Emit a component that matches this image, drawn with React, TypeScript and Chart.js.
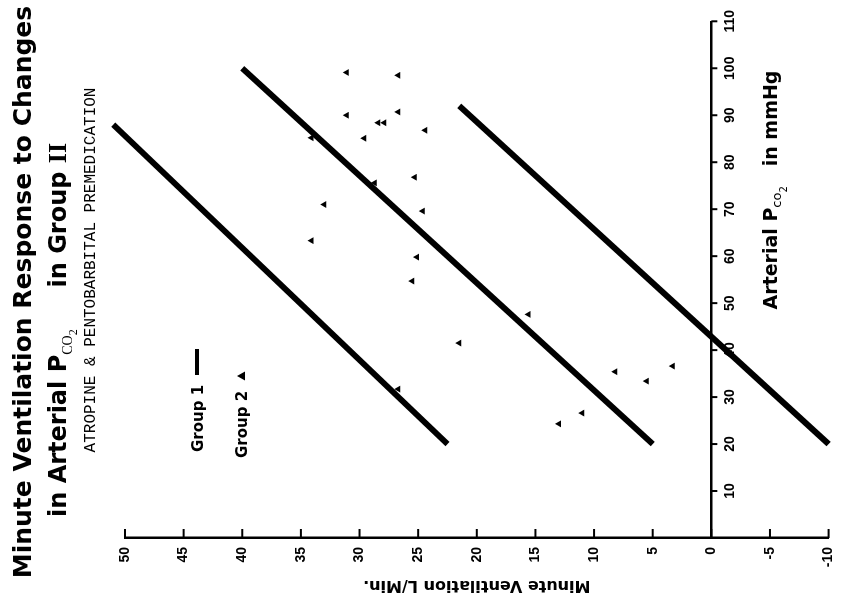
import { useEffect, useRef } from "react";
import { Chart, registerables } from "chart.js";
Chart.register(...registerables);

// ---- data ----
const pco2Ticks = [10, 20, 30, 40, 50, 60, 70, 80, 90, 100, 110];
const ventTicks = [50, 45, 40, 35, 30, 25, 20, 15, 10, 5, 0, -5, -10];

// Group 1 (three thick lines), end points
const line1Pco2 = [20, 88];
const line1Vent = [22.5, 51];
const line2Pco2 = [20, 100];
const line2Vent = [5, 40];
const line3Pco2 = [20, 92];
const line3Vent = [-10, 21.5];

// Group 2 (triangles)
const group2Pco2 = [99.1, 98.5, 90.0, 90.7, 88.4, 88.4, 86.8, 85.1, 85.2, 76.8, 75.6, 71.0, 69.6, 63.3, 59.8, 54.7, 47.6, 41.5, 31.7, 35.4, 33.4, 36.6, 26.6, 24.3];
const group2Vent = [31.1, 26.7, 31.1, 26.7, 28.4, 27.9, 24.4, 29.6, 34.1, 25.3, 28.7, 33.0, 24.6, 34.1, 25.1, 25.5, 15.6, 21.5, 26.7, 8.2, 5.5, 3.3, 11.0, 13.0];

const titleLine1 = "Minute Ventilation Response to Changes";
const subtitle = "ATROPINE & PENTOBARBITAL PREMEDICATION";
const yTitle = "Minute Ventilation L/Min.";

const SANS = '"DejaVu Sans", sans-serif';
const TICKFONT = '"Liberation Sans", sans-serif';

type Part = { t: string; font: string; dy: number };

function drawParts(ctx: CanvasRenderingContext2D, parts: Part[], cx: number, base: number) {
  let total = 0;
  parts.forEach((p) => { ctx.font = p.font; total += ctx.measureText(p.t).width; });
  let x = cx - total / 2;
  parts.forEach((p) => {
    ctx.font = p.font;
    ctx.fillText(p.t, x, base + p.dy);
    x += ctx.measureText(p.t).width;
  });
}

const pts = (xs: number[], ys: number[]) => xs.map((x, i) => ({ x, y: ys[i] }));

export default function App() {
  const ref = useRef<HTMLCanvasElement>(null);
  useEffect(() => {
    const canvas = ref.current!;
    const decor = {
      id: "decor",
      afterDraw(chart: any) {
        const ctx: CanvasRenderingContext2D = chart.ctx;
        const xs = chart.scales.x;
        const ys = chart.scales.y;
        ctx.save();
        ctx.fillStyle = "#000";
        ctx.strokeStyle = "#000";
        ctx.textBaseline = "alphabetic";
        ctx.textAlign = "left";
        // inward tick marks on ventilation axis
        ctx.lineWidth = 2;
        ventTicks.forEach((v) => {
          const py = ys.getPixelForValue(v);
          ctx.beginPath();
          ctx.moveTo(xs.left, py);
          ctx.lineTo(xs.left + 9, py);
          ctx.stroke();
        });
        // tick marks on Pco2 axis (at V = 0)
        const y0 = ys.getPixelForValue(0);
        pco2Ticks.forEach((p) => {
          const px = xs.getPixelForValue(p);
          ctx.beginPath();
          ctx.moveTo(px, y0);
          ctx.lineTo(px, y0 + 6);
          ctx.stroke();
        });
        // titles
        drawParts(ctx, [{ t: titleLine1, font: `bold 25px ${SANS}`, dy: 0 }], 311, 31);
        drawParts(ctx, [
          { t: "in Arterial P", font: `bold 24px ${SANS}`, dy: 0 },
          { t: "CO", font: `14px "Liberation Serif", serif`, dy: 6 },
          { t: "2", font: `12px "Liberation Serif", serif`, dy: 11 },
          { t: "     in Group ", font: `bold 24px ${SANS}`, dy: 0 },
          { t: "II", font: `bold 26px "Liberation Serif", serif`, dy: 0 },
        ], 273, 66);
        drawParts(ctx, [{ t: subtitle, font: `16px "Liberation Mono", monospace`, dy: 0 }], 333, 95);
        // legend
        ctx.font = `bold 15px ${SANS}`;
        ctx.fillText("Group 1", 151, 203);
        ctx.lineWidth = 4;
        ctx.beginPath();
        ctx.moveTo(228, 197);
        ctx.lineTo(254, 197);
        ctx.stroke();
        ctx.fillText("Group 2", 145, 247);
        ctx.beginPath();
        ctx.moveTo(227, 237);
        ctx.lineTo(231.5, 245);
        ctx.lineTo(222.5, 245);
        ctx.closePath();
        ctx.fill();
        // Pco2 axis title
        drawParts(ctx, [
          { t: "Arterial P", font: `bold 19px ${SANS}`, dy: 0 },
          { t: "co", font: `13px ${SANS}`, dy: 4 },
          { t: "2", font: `10px ${SANS}`, dy: 10 },
          { t: "   in mmHg", font: `bold 19px ${SANS}`, dy: 0 },
        ], 413, 777);
        ctx.restore();
      },
    };

    const chart = new Chart(canvas, {
      type: "scatter",
      data: {
        datasets: [
          { type: "line", data: pts(line1Pco2, line1Vent), borderColor: "#000", borderWidth: 6, pointRadius: 0, clip: false } as any,
          { type: "line", data: pts(line2Pco2, line2Vent), borderColor: "#000", borderWidth: 6, pointRadius: 0, clip: false } as any,
          { type: "line", data: pts(line3Pco2, line3Vent), borderColor: "#000", borderWidth: 6, pointRadius: 0, clip: false } as any,
          { type: "scatter", data: pts(group2Pco2, group2Vent), pointStyle: "triangle", pointRadius: 4, backgroundColor: "#000", borderColor: "#000", borderWidth: 0 } as any,
        ],
      },
      options: {
        responsive: false,
        animation: false,
        devicePixelRatio: 1,
        layout: { padding: { left: 0, right: 15.5, top: 125, bottom: 6 } },
        plugins: { legend: { display: false }, title: { display: false }, tooltip: { enabled: false } },
        scales: {
          x: {
            type: "linear",
            min: 0,
            max: 110,
            position: { y: 0 } as any,
            grid: { display: false, drawTicks: false },
            border: { display: true, color: "#000", width: 2.5 },
            ticks: { color: "#000", font: { family: TICKFONT, weight: "bold", size: 14 }, padding: 10, maxRotation: 0, minRotation: 0 },
            afterBuildTicks: (s: any) => { s.ticks = pco2Ticks.map((v) => ({ value: v })); },
          },
          y: {
            type: "linear",
            min: -10,
            max: 50,
            position: "left",
            grid: { display: false, drawTicks: false },
            border: { display: true, color: "#000", width: 2.5 },
            ticks: { color: "#000", font: { family: TICKFONT, weight: "bold", size: 14 }, padding: 9 },
            afterBuildTicks: (s: any) => { s.ticks = ventTicks.map((v) => ({ value: v })); },
            afterFit: (s: any) => { s.width = 65; },
            title: { display: true, text: yTitle, color: "#000", font: { family: SANS, weight: "bold", size: 16 }, padding: { top: 8, bottom: 0 } },
          },
        },
      } as any,
      plugins: [decor],
    });
    return () => chart.destroy();
  }, []);

  return (
    <div style={{ position: "fixed", left: 0, top: 0, width: 846, height: 603, overflow: "hidden", background: "#fff" }}>
      <canvas
        ref={ref}
        width={603}
        height={846}
        style={{ position: "absolute", left: 0, top: 0, width: 603, height: 846, transformOrigin: "0 0", transform: "translate(0px, 603px) rotate(-90deg)" }}
      />
    </div>
  );
}
